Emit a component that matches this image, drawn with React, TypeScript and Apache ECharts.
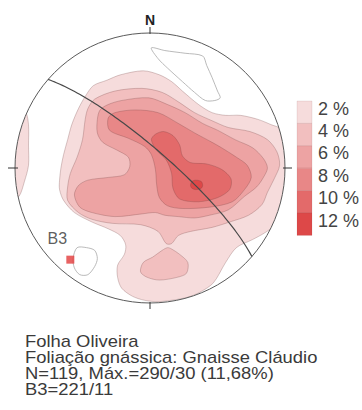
import React, { useEffect, useRef } from 'react';
import * as echarts from 'echarts';

// ---- Legend / contour levels ----
const LEVELS = ['2 %', '4 %', '6 %', '8 %', '10 %', '12 %'];
const LEVEL_COLORS = ['#f6dcdc', '#f2bfbf', '#eda3a3', '#e88787', '#e36a6a', '#dd4848'];

// ---- Caption ----
const CAPTION = [
  'Folha Oliveira',
  'Foliação gnássica: Gnaisse Cláudio',
  'N=119, Máx.=290/30 (11,68%)',
  'B3=221/11',
];

// ---- Beta axis (trend / plunge) ----
const B3_NAME = 'B3';
const B3_TREND = 221;
const B3_PLUNGE = 11;

// ---- Contours, equal-area net coordinates (% of primitive radius; x = E, y = N) ----
const C2_MAIN = [[-58,32],[-53,44],[-48,53],[-42,61],[-32,65],[-22,69],[-5,72],[7,69],[16,64],[24,57],[36,47],[46,41],[56,39],[67,39],[80,36],[90,32],[97,29],[101,21],[103,-1],[101,-24],[97,-33],[93,-42],[85,-48],[76,-53],[64,-59],[56,-70],[47,-85],[37,-92],[27,-96],[7,-99],[-4,-98],[-13,-95],[-21,-89],[-24,-81],[-24,-72],[-19,-64],[-18,-57],[-22,-50],[-31,-45],[-43,-40],[-56,-33],[-64,-24],[-67,-16],[-67,-9],[-66,0],[-64,10],[-61,21]];
const C2_WEST = [[-92,41],[-90,32],[-90,17],[-90,2],[-93,-10],[-97,-21],[-101,-21],[-103,10],[-97,41]];
const C4_MAIN = [[-46,44],[-41,51],[-26,57],[-6,59],[9,56],[21,49],[33,41],[46,35],[58,30],[74,27],[87,21],[94,12],[96,2],[92,-8],[87,-18],[83,-27],[73,-35],[59,-40],[46,-44],[30,-47],[21,-50],[16,-56],[12,-56],[6,-47],[-7,-42],[-28,-41],[-43,-38],[-53,-33],[-61,-24],[-61,-14],[-59,-4],[-54,8],[-50,21],[-48,36]];
const C4_SOUTH = [[-7,-77],[-5,-70],[2,-66],[9,-61],[13,-59],[16,-60],[22,-64],[28,-70],[27,-78],[20,-81],[7,-83],[-2,-81]];
const C6 = [[-39,36],[-37,43],[-31,47],[-21,50],[-1,52],[13,47],[26,41],[39,33],[50,28],[63,21],[76,15],[84,7],[87,0],[84,-7],[79,-14],[70,-21],[58,-31],[44,-35],[33,-37],[21,-36],[11,-35],[4,-33],[-6,-34],[-26,-36],[-43,-33],[-52,-29],[-56,-20],[-53,-13],[-46,-9],[-31,-7],[-19,-5],[-15,1],[-16,8],[-24,13],[-35,19],[-39,26]];
const C8 = [[-31,37],[-26,41],[-11,43],[6,41],[21,33],[33,26],[46,19],[53,15],[64,8],[72,2],[75,-7],[70,-16],[61,-25],[44,-29],[24,-30],[13,-28],[7,-22],[5,-13],[4,-1],[1,10],[-4,16],[-16,22],[-30,28]];
const C10 = [[1,21],[4,25],[10,27],[17,24],[22,17],[24,9],[30,4],[42,3],[53,-1],[60,-8],[59,-16],[50,-22],[36,-25],[22,-23],[17,-15],[16,-4],[12,6],[5,13]];
const C12 = [[39,-13],[38,-10],[34,-9],[31,-10],[30,-13],[31,-15],[34,-16],[38,-15]];
const LOOP_NE = [[1,89],[11,87],[26,85],[39,83],[42,76],[46,67],[50,57],[52,52],[48,50],[41,50],[33,56],[24,64],[13,74],[6,81]];
const LOOP_B3 = [[-54,-59],[-47,-59],[-41,-61],[-39,-67],[-41,-73],[-46,-79],[-52,-79],[-56,-74],[-57,-67]];

const FILLED = [
  { pts: C2_MAIN, level: 0 },
  { pts: C2_WEST, level: 0 },
  { pts: C4_MAIN, level: 1 },
  { pts: C4_SOUTH, level: 1 },
  { pts: C6, level: 2 },
  { pts: C8, level: 3 },
  { pts: C10, level: 4 },
  { pts: C12, level: 5 },
];
const OUTLINES = [LOOP_NE, LOOP_B3];

const D = Math.PI / 180;
function equalArea(trend: number, plunge: number): [number, number] {
  const r = Math.SQRT2 * Math.sin(((90 - plunge) / 2) * D) * 100;
  return [r * Math.sin(trend * D), r * Math.cos(trend * D)];
}
// Great circle of the plane whose pole is (trend, plunge)
function greatCircle(trend: number, plunge: number): [number, number][] {
  const dipDir = (trend + 180) % 360;
  const dip = 90 - plunge;
  const st = (dipDir - 90) * D;
  const s = [Math.cos(st), Math.sin(st), 0];
  const d = [Math.cos(dip * D) * Math.cos(dipDir * D), Math.cos(dip * D) * Math.sin(dipDir * D), Math.sin(dip * D)];
  const out: [number, number][] = [];
  for (let a = 0; a <= 180; a += 2) {
    let v = [0, 1, 2].map((k) => Math.cos(a * D) * s[k] + Math.sin(a * D) * d[k]);
    if (v[2] < 0) v = v.map((c) => -c);
    const pl = Math.asin(Math.min(1, Math.max(0, v[2]))) / D;
    const tr = (Math.atan2(v[1], v[0]) / D + 360) % 360;
    out.push(equalArea(tr, pl));
  }
  return out;
}

const FONT = '"Liberation Sans", Arial, Helvetica, sans-serif';

export default function App() {
  const ref = useRef<HTMLDivElement>(null);
  useEffect(() => {
    if (!ref.current) return;
    const chart = echarts.init(ref.current, null, { renderer: 'svg' });

    const legendEls: any[] = [];
    const boxTop = 101;
    const boxH = 22.4;
    LEVELS.forEach((lab, i) => {
      legendEls.push({
        type: 'rect', z: 100,
        shape: { x: 297, y: boxTop + i * boxH, width: 15, height: boxH },
        style: { fill: LEVEL_COLORS[i], stroke: 'rgba(120,60,60,0.18)', lineWidth: 0.6 },
      });
      legendEls.push({
        type: 'text', z: 100, x: 318, y: boxTop + i * boxH + 7.5,
        style: { text: lab, font: `18px ${FONT}`, fill: '#444', verticalAlign: 'middle', align: 'left' },
      });
    });
    CAPTION.forEach((line, i) => {
      legendEls.push({
        type: 'text', z: 100, x: 25, y: 341 + i * 16, scaleX: 1.15,
        style: { text: line, font: `16px ${FONT}`, fill: '#3a3a3a', verticalAlign: 'middle', align: 'left' },
      });
    });

    const b3 = equalArea(B3_TREND, B3_PLUNGE);

    chart.setOption({
      animation: false,
      grid: { left: 15, top: 33, width: 270, height: 270 },
      xAxis: { type: 'value', min: -100, max: 100, show: false },
      yAxis: { type: 'value', min: -100, max: 100, show: false },
      graphic: legendEls,
      series: [
        {
          type: 'custom', z: 1, clip: false, silent: true,
          data: FILLED.map(() => [0, 0]),
          renderItem: (params: any, api: any) => {
            const c = FILLED[params.dataIndex];
            return {
              type: 'polygon',
              shape: { points: c.pts.map((p) => api.coord(p)), smooth: 0.3 },
              style: { fill: LEVEL_COLORS[c.level], stroke: 'rgba(110,60,60,0.45)', lineWidth: 0.6 },
            };
          },
        },
        {
          type: 'custom', z: 2, clip: false, silent: true,
          data: OUTLINES.map(() => [0, 0]),
          renderItem: (params: any, api: any) => ({
            type: 'polygon',
            shape: { points: OUTLINES[params.dataIndex].map((p) => api.coord(p)), smooth: 0.3 },
            style: { fill: 'none', stroke: '#a8a8a8', lineWidth: 0.8 },
          }),
        },
        {
          type: 'custom', z: 3, clip: false, silent: true,
          data: [[0, 0]],
          renderItem: (params: any, api: any) => {
            const c = api.coord([0, 0]);
            const r = api.size([100, 0])[0];
            return {
              type: 'group',
              children: [
                { type: 'ring', shape: { cx: c[0], cy: c[1], r: r + 14, r0: r }, style: { fill: '#ffffff' } },
                { type: 'circle', shape: { cx: c[0], cy: c[1], r }, style: { fill: 'none', stroke: '#5a5a5a', lineWidth: 1 } },
                { type: 'line', shape: { x1: c[0], y1: c[1] - r - 6, x2: c[0], y2: c[1] - r + 1 }, style: { stroke: '#333', lineWidth: 1 } },
                { type: 'line', shape: { x1: c[0], y1: c[1] + r - 1, x2: c[0], y2: c[1] + r + 6 }, style: { stroke: '#333', lineWidth: 1 } },
                { type: 'line', shape: { x1: c[0] - r - 7, y1: c[1], x2: c[0] - r + 3, y2: c[1] }, style: { stroke: '#333', lineWidth: 1 } },
                { type: 'line', shape: { x1: c[0] + r - 2, y1: c[1], x2: c[0] + r + 7, y2: c[1] }, style: { stroke: '#333', lineWidth: 1 } },
                { type: 'text', x: c[0], y: c[1] - r - 13, style: { text: 'N', font: `bold 14px ${FONT}`, fill: '#222', align: 'center', verticalAlign: 'middle' } },
              ],
            };
          },
        },
        {
          type: 'line', z: 4, silent: true, clip: false,
          data: greatCircle(B3_TREND, B3_PLUNGE),
          showSymbol: false,
          lineStyle: { color: '#484848', width: 1.2 },
        },
        {
          type: 'scatter', z: 5, silent: true,
          data: [{ value: b3, name: B3_NAME }],
          symbol: 'rect', symbolSize: 8,
          itemStyle: { color: '#e23b3b' },
          label: {
            show: true, position: 'top', offset: [-13, -4],
            formatter: '{b}', fontSize: 16, fontFamily: FONT, color: '#333',
          },
        },
      ],
    });
    return () => chart.dispose();
  }, []);
  return <div ref={ref} style={{ position: 'absolute', left: 0, top: 0, width: 362, height: 410 }} />;
}
